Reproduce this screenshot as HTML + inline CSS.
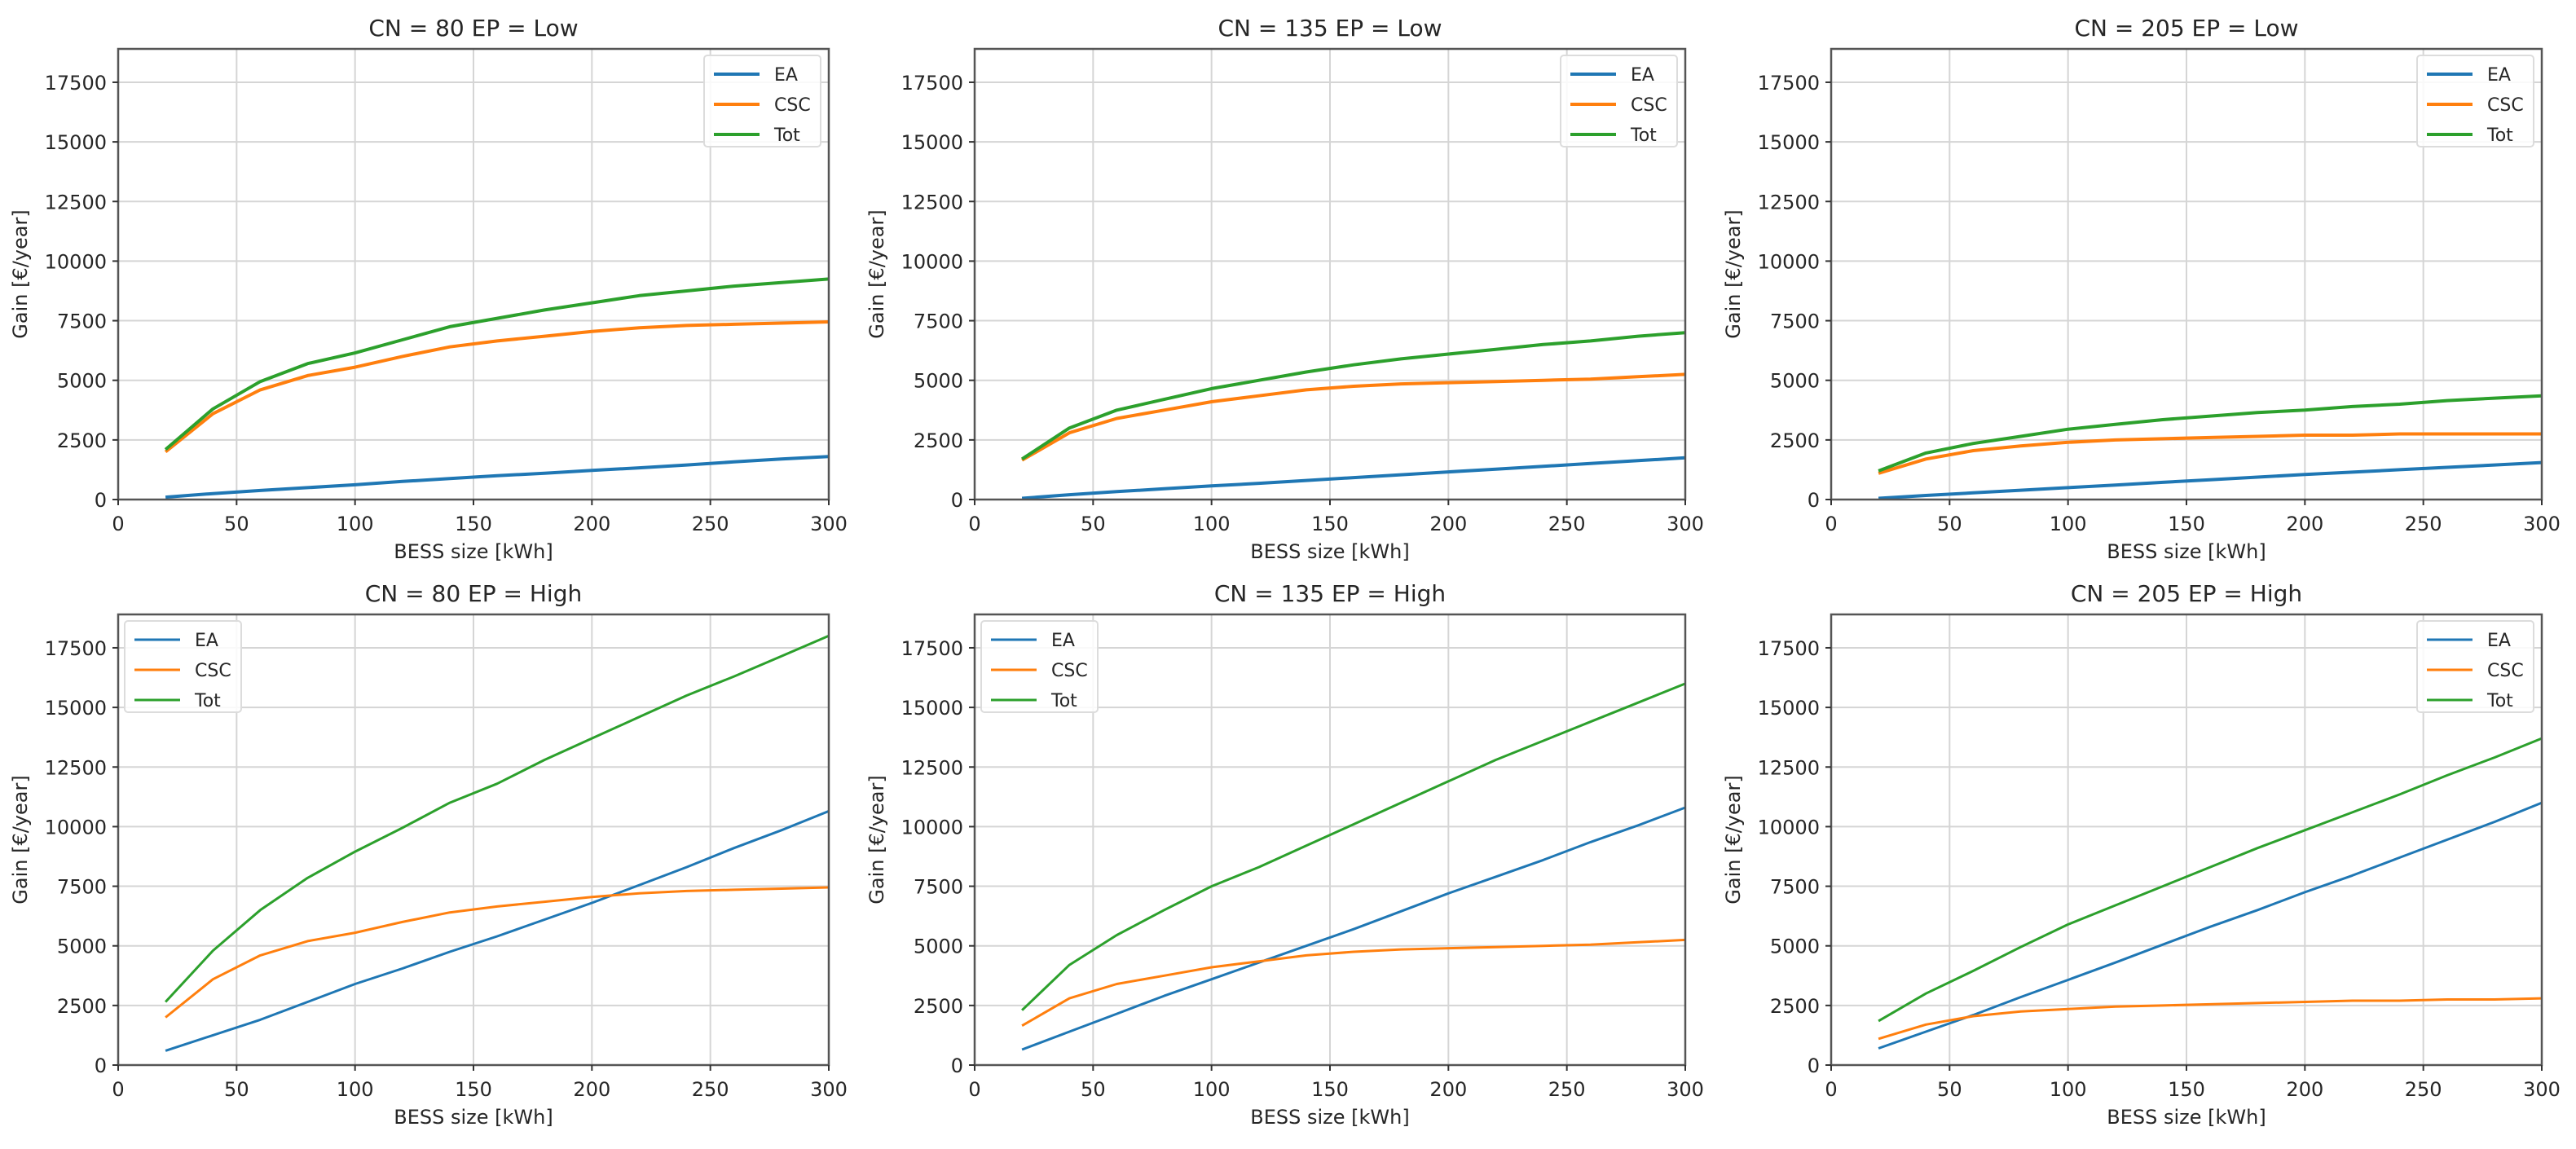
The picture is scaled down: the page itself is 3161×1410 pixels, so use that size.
<!DOCTYPE html>
<html><head><meta charset="utf-8">
<style>
html,body{margin:0;padding:0;background:#fff;}
svg{display:block;}
text{font-family:"DejaVu Sans","Liberation Sans",sans-serif;fill:#262626;}
</style></head>
<body>
<svg id="fig" width="3161" height="1410" viewBox="0 0 3161 1410" xmlns="http://www.w3.org/2000/svg"></svg>
<script>
const xs = [20,40,60,80,100,120,140,160,180,200,220,240,260,280,300];
const titles = ["CN = 80 EP = Low","CN = 135 EP = Low","CN = 205 EP = Low","CN = 80 EP = High","CN = 135 EP = High","CN = 205 EP = High"];
const xTicks = [0,50,100,150,200,250,300];
const yTicks = [0,2500,5000,7500,10000,12500,15000,17500];
const seriesNames = ["EA","CSC","Tot"];
// Low EP
const eaLow80  = [100,250,380,500,620,760,880,1000,1100,1220,1330,1450,1580,1700,1800];
const cscLow80 = [2000,3600,4600,5200,5550,6000,6400,6650,6850,7050,7200,7300,7350,7400,7450];
const totLow80 = [2100,3800,4950,5700,6150,6700,7250,7600,7950,8250,8550,8750,8950,9100,9250];
const eaLow135  = [50,200,330,450,570,680,800,920,1040,1160,1270,1390,1510,1630,1750];
const cscLow135 = [1650,2800,3400,3750,4100,4350,4600,4750,4850,4900,4950,5000,5050,5150,5250];
const totLow135 = [1700,3000,3750,4200,4650,5000,5350,5650,5900,6100,6300,6500,6650,6850,7000];
const eaLow205  = [50,170,280,390,500,610,720,830,940,1050,1150,1250,1350,1450,1550];
const cscLow205 = [1100,1700,2050,2250,2400,2500,2550,2600,2650,2700,2700,2750,2750,2750,2750];
const totLow205 = [1200,1950,2350,2650,2950,3150,3350,3500,3650,3750,3900,4000,4150,4250,4350];
// High EP
const eaHigh80  = [600,1250,1900,2650,3400,4050,4750,5400,6100,6800,7550,8300,9100,9850,10650];
const cscHigh80 = [2000,3600,4600,5200,5550,6000,6400,6650,6850,7050,7200,7300,7350,7400,7450];
const totHigh80 = [2650,4800,6500,7850,8950,9950,11000,11800,12800,13700,14600,15500,16300,17150,18000];
const eaHigh135  = [650,1400,2150,2900,3600,4300,5000,5700,6450,7200,7900,8600,9350,10050,10800];
const cscHigh135 = [1650,2800,3400,3750,4100,4350,4600,4750,4850,4900,4950,5000,5050,5150,5250];
const totHigh135 = [2300,4200,5450,6500,7500,8300,9200,10100,11000,11900,12800,13600,14400,15200,16000];
const eaHigh205  = [700,1400,2100,2850,3570,4300,5050,5800,6500,7250,7950,8700,9450,10200,11000];
const cscHigh205 = [1100,1700,2050,2250,2350,2450,2500,2550,2600,2650,2700,2700,2750,2750,2800];
const totHigh205 = [1850,3000,3950,4950,5900,6700,7500,8300,9100,9850,10600,11350,12150,12900,13700];

const panelSeries = [
  [eaLow80,cscLow80,totLow80],[eaLow135,cscLow135,totLow135],[eaLow205,cscLow205,totLow205],
  [eaHigh80,cscHigh80,totHigh80],[eaHigh135,cscHigh135,totHigh135],[eaHigh205,cscHigh205,totHigh205]
];
const colors = ["#1f77b4","#ff7f0e","#2ca02c"];
const NS = "http://www.w3.org/2000/svg";
const svg = document.getElementById("fig");
const X0 = [145,1196,2247], W = 872;
const Y0 = [613,1307], H = 553;
const XMIN = 0, XMAX = 300, YMIN = 0, YMAX = 18900;

function mk(tag, attrs, parent){
  const e = document.createElementNS(NS, tag);
  for (const k in attrs) e.setAttribute(k, attrs[k]);
  parent.appendChild(e);
  return e;
}

for (let p = 0; p < 6; p++) {
  const col = p % 3, row = Math.floor(p / 3);
  const left = X0[col], bottom = Y0[row], top = bottom - H;
  const sx = v => left + (v - XMIN) / (XMAX - XMIN) * W;
  const sy = v => bottom - (v - YMIN) / (YMAX - YMIN) * H;
  const g = mk("g", {}, svg);
  
  
  mk("rect", {x:left, y:top, width:W, height:H, fill:"#fff"}, g);
  // grid
  xTicks.forEach(t => {
    const l = mk("line", {x1:sx(t), x2:sx(t), y1:top, y2:bottom, stroke:"#d5d5d5", "stroke-width":2}, g);
    
    
  });
  yTicks.forEach(t => {
    const l = mk("line", {x1:left, x2:left + W, y1:sy(t), y2:sy(t), stroke:"#d5d5d5", "stroke-width":2}, g);
    
    
  });
  // series
  const lw = row === 0 ? 4 : 3;
  panelSeries[p].forEach((vals, si) => {
    const pts = xs.map((x, i) => sx(x).toFixed(1) + "," + sy(vals[i]).toFixed(1)).join(" ");
    const pl = mk("polyline", {points:pts, fill:"none", stroke:colors[si], "stroke-width":lw, "stroke-linejoin":"round"}, g);
    
    
  });
  // spines
  const sp = mk("rect", {x:left, y:top, width:W, height:H, fill:"none", stroke:"#555", "stroke-width":2.5}, g);
  
  
  // ticks
  xTicks.forEach(t => {
    mk("line", {x1:sx(t), x2:sx(t), y1:bottom, y2:bottom + 7, stroke:"#333", "stroke-width":2}, g);
    const tx = mk("text", {x:sx(t), y:bottom + 38, "text-anchor":"middle", "font-size":24}, g);
    tx.textContent = t;
    
    
  });
  yTicks.forEach(t => {
    mk("line", {x1:left - 7, x2:left, y1:sy(t), y2:sy(t), stroke:"#333", "stroke-width":2}, g);
    const tx = mk("text", {x:left - 14, y:sy(t) + 9, "text-anchor":"end", "font-size":24}, g);
    tx.textContent = t;
    
    
  });
  // labels
  const tt = mk("text", {x:left + W / 2, y:top - 16, "text-anchor":"middle", "font-size":28}, g);
  tt.textContent = titles[p];
  
  
  const xl = mk("text", {x:left + W / 2, y:bottom + 72, "text-anchor":"middle", "font-size":24}, g);
  xl.textContent = "BESS size [kWh]";
  
  
  const ylx = left - 112, yly = top + H / 2;
  const yl = mk("text", {x:ylx, y:yly, "text-anchor":"middle", "font-size":24, transform:"rotate(-90 " + ylx + " " + yly + ")"}, g);
  yl.textContent = "Gain [€/year]";
  
  
  // legend
  const upperLeft = (p === 3 || p === 4);
  const lgW = 143, lgH = 112;
  const lgX = upperLeft ? left + 8 : left + W - lgW - 10;
  const lgY = top + 8;
  const lg = mk("g", {}, g);
  
  
  mk("rect", {x:lgX, y:lgY, width:lgW, height:lgH, rx:4, fill:"#fff", "fill-opacity":0.85, stroke:"#dcdcdc", "stroke-width":2}, lg);
  seriesNames.forEach((n, i) => {
    const ey = lgY + 23 + i * 37;
    const e = mk("g", {}, lg);
    
    
    mk("line", {x1:lgX + 12, x2:lgX + 68, y1:ey, y2:ey, stroke:colors[i], "stroke-width":lw}, e);
    const t = mk("text", {x:lgX + 86, y:ey + 8, "font-size":22}, e);
    t.textContent = n;
  });
}
</script>
</body></html>
